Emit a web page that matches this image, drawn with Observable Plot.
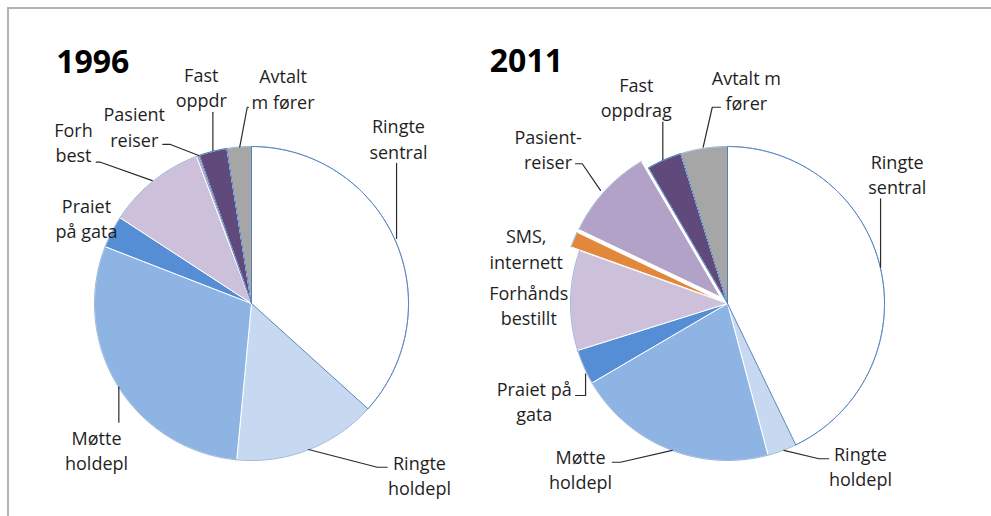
<!DOCTYPE html>
<html>
<head>
<meta charset="utf-8">
<script src="https://cdn.jsdelivr.net/npm/d3@7"></script>
<script src="https://cdn.jsdelivr.net/npm/@observablehq/plot@0.6"></script>
<style>
  html, body { margin: 0; padding: 0; background: #fff; overflow: hidden; }
  #wrap { position: relative; width: 991px; height: 516px; overflow: hidden; }
  #frame { position: absolute; left: 7px; top: 7px; width: 1100px; height: 700px; border: 2px solid #b3b3b3; box-sizing: border-box; }
  #chart { position: absolute; left: 0; top: 0; }
</style>
</head>
<body>
<div id="wrap"><div id="frame"></div><div id="chart"></div></div>
<script>
// ---- data ----
const years = ["1996", "2011"];
const categories = ["Ringte sentral", "Ringte holdepl", "Møtte holdepl", "Praiet på gata",
  "Forhåndsbestilt", "SMS, internett", "Pasientreiser", "Fast oppdrag", "Avtalt m fører"];
const values1996 = [36.7, 14.8, 29.4, 3.3, 10.1, 0, 0.3, 2.9, 2.5];
const values2011 = [42.8, 3.0, 20.7, 3.6, 10.3, 1.6, 9.5, 3.6, 4.8];
const labels1996 = ["Ringte\nsentral", "Ringte\nholdepl", "Møtte\nholdepl", "Praiet\npå gata",
  "Forh\nbest", null, "Pasient\nreiser", "Fast\noppdr", "Avtalt\nm fører"];
const labels2011 = ["Ringte\nsentral", "Ringte\nholdepl", "Møtte\nholdepl", "Praiet på\ngata",
  "Forhånds\nbestillt", "SMS,\ninternett", "Pasient-\nreiser", "Fast\noppdrag", "Avtalt m\nfører"];
const colors = ["#ffffff", "#c6d9f1", "#8eb4e3", "#558ed5", "#ccc0da", "#e2883c", "#b3a2c7", "#604a7b", "#a6a6a6"];
const exploded2011 = ["SMS, internett", "Pasientreiser"];

// ---- layout (in units of pie radius, relative to each pie's centre) ----
const W = 991, H = 516, R = 157;
const C1 = [251, 303], C2 = [727, 303];
const pieOffsets = [0, (C2[0] - C1[0]) / R];
const explodeDist = 0.06;
const labelPos = [
  // 1996
  [[0.936, 1.054], [1.070, -1.089], [-0.987, -0.927], [-1.051, 0.548], [-1.134, 1.032], null, [-0.747, 1.131], [-0.320, 1.380], [0.201, 1.373]],
  // 2011
  [[1.081, 0.831], [0.847, -1.034], [-0.936, -1.051], [-1.231, -0.620], [-1.266, -0.008], [-1.282, 0.354], [-1.143, 0.989], [-0.581, 1.317], [0.120, 1.364]]
];
const leaderPts = [
  [[[0.924, 0.892], [0.924, 0.414]],
   [[0.864, -1.043], [0.801, -1.043], [0.363, -0.930]],
   [[-0.845, -0.756], [-0.845, -0.533]],
   null,
   [[-0.989, 0.900], [-0.962, 0.900], [-0.632, 0.783]],
   null,
   [[-0.565, 1.013], [-0.516, 1.013], [-0.336, 0.943]],
   [[-0.246, 1.218], [-0.246, 0.975]],
   [[-0.019, 1.250], [-0.027, 1.250], [-0.075, 0.996]]],
  [[[0.975, 0.667], [0.975, 0.231]],
   [[0.645, -0.989], [0.582, -0.989], [0.359, -0.936]],
   [[-0.734, -1.011], [-0.682, -1.011], [-0.352, -0.936]],
   [[-0.968, -0.586], [-0.904, -0.586], [-0.904, -0.448]],
   null,
   null,
   [[-0.968, 0.890], [-0.925, 0.890], [-0.809, 0.720]],
   [[-0.412, 1.155], [-0.412, 0.915]],
   [[-0.045, 1.250], [-0.097, 1.250], [-0.155, 0.996]]]
];
const titlePos = [[-1.244, 1.465], [-1.514, 1.473]];

// ---- build geometry ----
const allValues = [values1996, values2011];
const allLabels = [labels1996, labels2011];
const slicePts = [], arcPts = [], labelData = [], leaderData = [], titleData = [];
const pie = d3.pie().sort(null).value(d => d.v);

years.forEach((yr, yi) => {
  const ox = pieOffsets[yi];
  const arr = categories.map((c, i) => ({c, v: allValues[yi][i], i}));
  pie(arr).forEach(a => {
    if (a.data.v <= 0) return;
    const id = yr + "-" + a.data.i;
    const mid = (a.startAngle + a.endAngle) / 2;
    const ex = (yi === 1 && exploded2011.includes(a.data.c)) ? explodeDist : 0;
    const cx = ox + ex * Math.sin(mid), cy = ex * Math.cos(mid);
    const n = Math.max(2, Math.ceil((a.endAngle - a.startAngle) / 0.01));
    const color = colors[a.data.i];
    slicePts.push({id, x: cx, y: cy, color});
    for (let k = 0; k <= n; k++) {
      const t = a.startAngle + (a.endAngle - a.startAngle) * k / n;
      const p = {id, x: cx + Math.sin(t), y: cy + Math.cos(t), color};
      slicePts.push(p);
      arcPts.push({...p});
    }
    slicePts.push({id, x: cx, y: cy, color});
  });
  allLabels[yi].forEach((lab, i) => {
    if (!lab) return;
    const p = labelPos[yi][i];
    labelData.push({x: ox + p[0], y: p[1], text: lab});
    const L = leaderPts[yi][i];
    if (L) L.forEach(q => leaderData.push({id: yr + "-" + i, x: ox + q[0], y: q[1]}));
  });
  titleData.push({x: ox + titlePos[yi][0], y: titlePos[yi][1], text: yr});
});

const ringId = years.map(y => y + "-0");
const fastId = years.map(y => y + "-7");

const chart = Plot.plot({
  width: W, height: H, margin: 0,
  x: {domain: [-C1[0] / R, (W - C1[0]) / R], axis: null},
  y: {domain: [-(H - C1[1]) / R, C1[1] / R], axis: null},
  color: {type: "identity"},
  style: {fontFamily: "'Open Sans', sans-serif", background: "transparent", overflow: "visible"},
  marks: [
    Plot.line(slicePts, {x: "x", y: "y", z: "id", fill: "color", stroke: "#ffffff", strokeWidth: 1, strokeLinejoin: "round"}),
    Plot.line(arcPts, {x: "x", y: "y", z: "id", stroke: "#6f97c9", strokeWidth: 1, strokeOpacity: 0.7}),
    Plot.line(slicePts.filter(d => ringId.includes(d.id) || fastId.includes(d.id)), {x: "x", y: "y", z: "id", stroke: "#4f81bd", strokeWidth: 1}),
    Plot.line(leaderData, {x: "x", y: "y", z: "id", stroke: "#2b2b2b", strokeWidth: 1.2}),
    Plot.text(labelData, {x: "x", y: "y", text: "text", fontSize: 18, lineHeight: 1.4, textAnchor: "middle", lineAnchor: "middle", fill: "#1f1f1f"}),
    Plot.text(titleData, {x: "x", y: "y", text: "text", fontSize: 32, fontWeight: "bold", textAnchor: "start", lineAnchor: "bottom", fill: "#000"})
  ]
});
document.getElementById("chart").appendChild(chart);
</script>
</body>
</html>
